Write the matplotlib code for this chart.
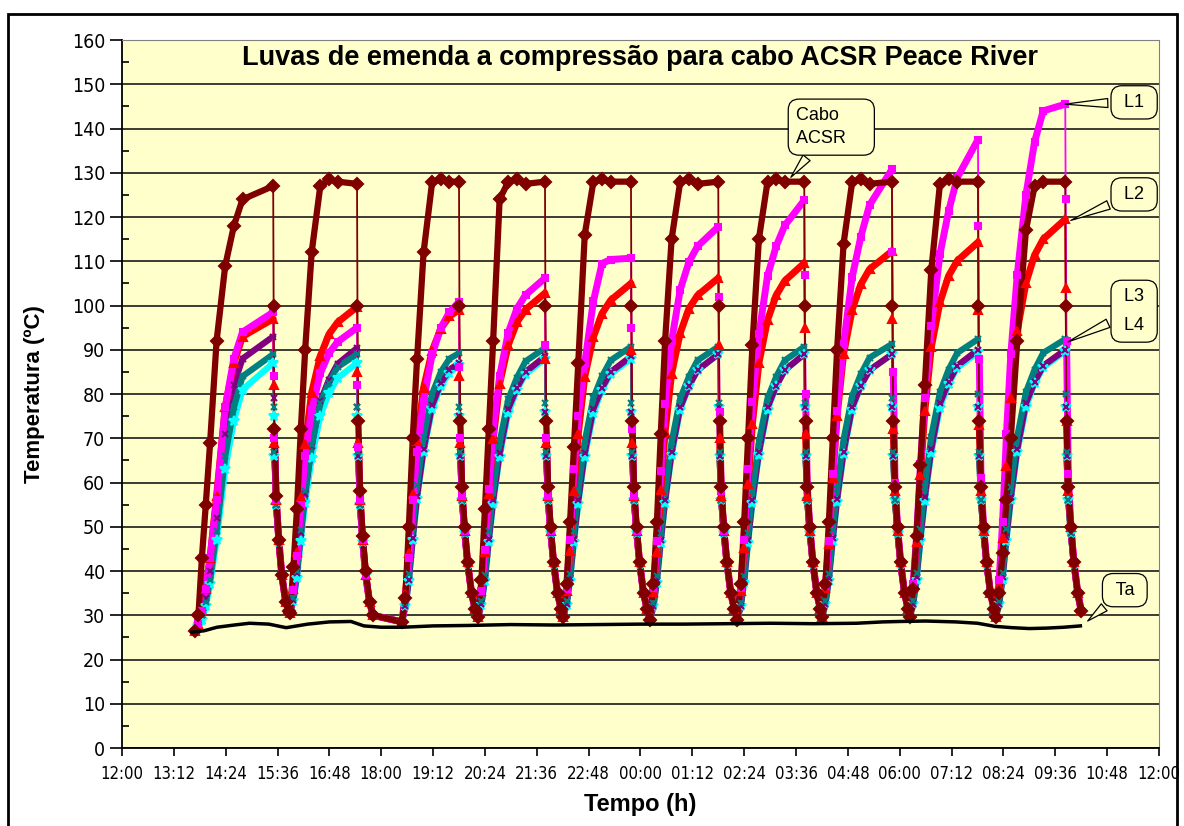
import numpy as np
import matplotlib.pyplot as plt

# cycle timing in hours after 12:00 (start of heating, switch-off)
cycle_start = [1.69, 3.89, 6.48, 8.24, 10.21, 12.22, 14.24, 16.20, 18.23, 20.22]
cycle_end = [3.50, 5.44, 7.80, 9.79, 11.78, 13.80, 15.79, 17.82, 19.81, 21.83]
heat_offsets = [0, 0.08, 0.16, 0.25, 0.35, 0.5, 0.7, 0.9, 1.1]
cool_offsets = [0.01, 0.03, 0.07, 0.13, 0.2, 0.29, 0.37]

# one row per cycle: heating samples, value at switch-off, cooling samples
cabo = [
    [26.5, 30, 43, 55, 69, 92, 109, 118, 124, 127, 100, 72, 57, 47, 39, 33, 31],
    [30.5, 41, 54, 72, 90, 112, 127, 128.5, 128, 127.5, 100, 74, 58, 48, 40, 33, 30],
    [28.5, 34, 50, 70, 88, 112, 128, 128.5, 128, 128, 100, 74, 59, 50, 42, 35, 31.5],
    [29.5, 38, 54, 72, 92, 124, 128, 128.5, 127.5, 128, 100, 74, 59, 50, 42, 35, 31.5],
    [29.5, 37, 51, 68, 87, 116, 128, 128.5, 128, 128, 100, 74, 59, 50, 42, 35, 31.5],
    [29, 37, 51, 71, 92, 115, 128, 128.5, 127.5, 128, 100, 74, 59, 50, 42, 35, 31.5],
    [29, 37, 51, 70, 91, 115, 128, 128.5, 128, 128, 100, 74, 59, 50, 42, 35, 31.5],
    [29.5, 37, 51, 70, 90, 114, 128, 128.5, 127.5, 128, 100, 74, 59, 50, 42, 35, 31.5],
    [29.5, 36, 48, 64, 82, 108, 127.5, 128.5, 128, 128, 100, 74, 59, 50, 42, 35, 31.5],
    [29.5, 35, 44, 56, 70, 92, 117, 127, 128, 128, 100, 74, 59, 50, 42, 35, 31],
]
l1 = [
    [26.5, 28, 31, 36, 43, 56, 77, 88, 94, 98.5, 84, 70, 56, 47, 39, 33, 31],
    [30.5, 35.7, 43.4, 55, 66, 76.3, 84.7, 89.2, 91.8, 95, 82, 68, 56, 47, 39, 33, 30],
    [28.5, 34, 43, 56, 67, 78.5, 89, 95, 98.5, 100.8, 86, 70, 57, 49, 42, 35, 31.5],
    [29.5, 35.6, 44.8, 58.6, 71.7, 84, 93.9, 99.3, 102.4, 106.2, 91, 70, 57, 49, 42, 35, 31.5],
    [29.5, 36, 47, 63, 75, 87, 101, 109.5, 110.4, 110.7, 95, 72, 57, 49, 42, 35, 31.5],
    [29, 36.1, 46.8, 62.7, 77.8, 92, 103.6, 109.8, 113.4, 117.8, 102, 76, 58, 49, 42, 35, 31.5],
    [29, 36.1, 47, 63.1, 78.3, 93.5, 106.7, 113.4, 118.1, 123.8, 107, 80, 59, 50, 42, 35, 31.5],
    [29.5, 36.6, 46.7, 61.9, 76.1, 91.3, 106.5, 115.6, 122.7, 130.8, 112, 85, 60, 50, 42, 35, 31.5],
    [29.5, 37.1, 47.9, 64.1, 79.2, 95.4, 111.6, 121.3, 128.9, 137.5, 118, 88, 61, 50, 42, 35, 31.5],
    [29.5, 38, 51, 71, 89, 107, 125, 137, 144, 145.5, 124, 92, 62, 50, 42, 35, 31],
]
l2 = [
    [26.5, 28, 31, 36, 43, 57, 77, 87, 93, 97, 82, 69, 56, 47, 39, 33, 31],
    [30.5, 36, 44.3, 56.8, 68.6, 80.3, 88.6, 93.5, 96.2, 99.7, 85, 69, 56, 47, 39, 33, 30],
    [28.5, 34.8, 44, 57.4, 69.4, 81.4, 89.8, 94.8, 97.6, 99, 84, 69, 57, 49, 42, 35, 31.5],
    [29.5, 35.4, 44.2, 57.4, 69.8, 82.3, 91.1, 96.2, 99.1, 102.8, 88, 69, 57, 49, 42, 35, 31.5],
    [29.5, 35.5, 44.6, 58.2, 71, 83.9, 92.9, 98.2, 101.2, 105, 90, 69, 57, 49, 42, 35, 31.5],
    [29, 35.2, 44.4, 58.3, 71.5, 84.6, 93.8, 99.3, 102.3, 106.2, 91, 70, 57, 49, 42, 35, 31.5],
    [29, 35.4, 45.1, 59.6, 73.3, 87, 96.7, 102.3, 105.6, 109.6, 95, 71, 57, 49, 42, 35, 31.5],
    [29.5, 36.1, 46.1, 61, 75, 89.1, 99.1, 104.8, 108.2, 112.3, 97, 72, 58, 49, 42, 35, 31.5],
    [29.5, 36.3, 46.5, 61.7, 76.1, 90.6, 100.7, 106.7, 110.1, 114.3, 99, 73, 58, 49, 42, 35, 31.5],
    [29.5, 36.7, 47.5, 63.7, 79, 94.3, 105.1, 111.4, 115, 119.5, 104, 74, 58, 50, 42, 35, 31],
]
l3 = [
    [26.5, 27.5, 30, 33, 38, 49, 66, 77, 84, 89, 77, 67, 55, 46.5, 39, 33, 31],
    [30.5, 34, 39.9, 49.2, 58, 68.5, 77.9, 82.6, 86.1, 89, 77, 67, 55, 46.5, 39, 33, 30],
    [28.5, 32.7, 39.4, 49.7, 59.5, 70.4, 80.1, 85, 88, 89.2, 77, 67, 56, 48.5, 41.5, 35, 31.5],
    [29.5, 33.2, 39.2, 49, 58.1, 69.1, 78.8, 83.7, 87.4, 90.4, 78, 67, 56, 48.5, 41.5, 35, 31.5],
    [29.5, 33.2, 39.3, 49.1, 58.3, 69.3, 79.1, 84, 87.6, 90.7, 78, 67, 56, 48.5, 41.5, 35, 31.5],
    [29, 32.7, 38.9, 48.7, 58, 69.1, 79, 83.9, 87.6, 90.7, 78, 67, 56, 48.5, 41.5, 35, 31.5],
    [29, 32.7, 38.9, 48.7, 58, 69.1, 79, 83.9, 87.6, 90.7, 78, 67, 56, 48.5, 41.5, 35, 31.5],
    [29.5, 33.2, 39.4, 49.3, 58.5, 69.7, 79.6, 84.5, 88.2, 91.3, 79, 67, 56, 48.5, 41.5, 35, 31.5],
    [29.5, 33.3, 39.6, 49.6, 59.1, 70.4, 80.4, 85.5, 89.3, 92.4, 80, 67, 56, 48.5, 41.5, 35, 31.5],
    [29.5, 33.3, 39.6, 49.6, 59.1, 70.4, 80.4, 85.5, 89.3, 92.4, 80, 67, 56, 48.5, 41.5, 35, 31],
]
l4 = [
    [26.5, 27.5, 29, 32, 37, 47, 63, 74, 81, 87, 75, 66, 55, 46.5, 39, 33, 31],
    [30.5, 33.3, 38.4, 46.9, 55.4, 65.5, 75.1, 80.2, 83.6, 87, 75, 66, 55, 46.5, 39, 33, 30],
    [28.5, 32, 37.8, 47.1, 56.3, 66.8, 76.6, 81.9, 84.8, 86.5, 75, 66, 56, 48.5, 41.5, 35, 31.5],
    [29.5, 32.4, 37.7, 46.5, 55.2, 65.8, 75.7, 81, 84.5, 88, 76, 66, 56, 48.5, 41.5, 35, 31.5],
    [29.5, 32.4, 37.7, 46.5, 55.2, 65.8, 75.7, 81, 84.5, 88, 76, 66, 56, 48.5, 41.5, 35, 31.5],
    [29, 32, 37.4, 46.4, 55.4, 66.2, 76.4, 81.8, 85.4, 89, 77, 66, 56, 48.5, 41.5, 35, 31.5],
    [29, 32, 37.4, 46.4, 55.4, 66.2, 76.4, 81.8, 85.4, 89, 77, 66, 56, 48.5, 41.5, 35, 31.5],
    [29.5, 32.5, 37.8, 46.8, 55.7, 66.4, 76.5, 81.9, 85.4, 89, 77, 66, 56, 48.5, 41.5, 35, 31.5],
    [29.5, 32.5, 37.9, 46.9, 55.9, 66.7, 76.9, 82.3, 85.9, 89.5, 77, 66, 56, 48.5, 41.5, 35, 31.5],
    [29.5, 32.5, 37.9, 46.9, 56, 66.8, 77, 82.4, 86, 89.7, 77, 66, 56, 48.5, 41.5, 35, 31],
]
l5 = [
    [26.5, 27.5, 30, 34, 40, 52, 71, 82, 88, 93, 79, 67, 55, 46.5, 39, 33, 31],
    [30.5, 33.5, 39.5, 48.5, 57.5, 68.2, 78.4, 83.2, 86.8, 90.4, 77, 66, 55, 46.5, 39, 33, 30],
    [28.5, 32, 38, 47.5, 57, 67.5, 77.5, 82.5, 85.5, 87, 75, 66, 56, 48.5, 41.5, 35, 31.5],
    [29.5, 32.5, 38.4, 47.2, 56, 66.7, 76.7, 81.4, 85, 88.5, 76, 66, 56, 48.5, 41.5, 35, 31.5],
    [29.5, 32.5, 38.4, 47.2, 56, 66.7, 76.7, 81.4, 85, 88.5, 76, 66, 56, 48.5, 41.5, 35, 31.5],
    [29, 32, 38, 47, 56, 66.8, 77, 81.8, 85.4, 89, 77, 66, 56, 48.5, 41.5, 35, 31.5],
    [29, 32, 38, 47, 56, 66.8, 77, 81.8, 85.4, 89, 77, 66, 56, 48.5, 41.5, 35, 31.5],
    [29.5, 32.5, 38.4, 47.4, 56.3, 67, 77.1, 81.9, 85.4, 89, 77, 66, 56, 48.5, 41.5, 35, 31.5],
    [29.5, 32.5, 38.6, 47.7, 56.7, 67.6, 77.9, 82.7, 86.4, 90, 77, 66, 56, 48.5, 41.5, 35, 31.5],
    [29.5, 32.5, 38.6, 47.7, 56.7, 67.6, 77.9, 82.7, 86.4, 90, 77, 66, 56, 48.5, 41.5, 35, 31],
]

# ambient temperature
ta_time = [1.62, 1.9, 2.2, 2.6, 2.95, 3.4, 3.8, 4.3, 4.8, 5.3, 5.6, 6.0, 6.5, 7.2, 8.0,
           9.0, 10.0, 11.0, 12.0, 13.0, 14.0, 15.0, 16.0, 17.0, 17.6, 18.0, 18.6, 19.3,
           19.8, 20.2, 20.6, 21.0, 21.4, 21.8, 22.18]
ta_vals = [26.2, 26.5, 27.3, 27.8, 28.2, 28, 27.2, 28, 28.5, 28.6, 27.6, 27.3, 27.3, 27.6,
           27.7, 27.9, 27.8, 27.9, 28, 28, 28.1, 28.2, 28.1, 28.2, 28.5, 28.6, 28.7, 28.5,
           28.2, 27.5, 27.2, 27, 27.1, 27.3, 27.6]

xtick_labels = ["12:00", "13:12", "14:24", "15:36", "16:48", "18:00", "19:12", "20:24",
                "21:36", "22:48", "00:00", "01:12", "02:24", "03:36", "04:48", "06:00",
                "07:12", "08:24", "09:36", "10:48", "12:00"]

plt.rcParams['font.family'] = ['Liberation Sans', 'DejaVu Sans']

# sample times, one row per cycle
time = np.array([[t0 + o for o in heat_offsets] + [te] + [te + o for o in cool_offsets]
                 for t0, te in zip(cycle_start, cycle_end)])

fig = plt.figure(figsize=(11.84, 8.26), dpi=100)
ax = fig.add_axes([0.1030, 0.0944, 0.8759, 0.8571])
ax.set_facecolor('#FFFFCC')

# chart frame
fig.patches.append(plt.Rectangle((8 / 1184, -0.01), 1169 / 1184, 0.993, transform=fig.transFigure,
                                 fill=False, ec='black', lw=2))

styles = [
    (l4, '#00FFFF', '*', 7, 4.5),
    (l5, '#800080', 'x', 5, 4.5),
    (l3, '#008080', 'x', 5, 4.5),
    (l2, '#FF0000', '^', 6, 5),
    (l1, '#FF00FF', 's', 5, 5),
    (cabo, '#800000', 'D', 6, 4.5),
]
for data, col, mk, ms, lw in styles:
    vals = np.array(data)
    n = len(vals)
    for k in range(n):
        # heating part and cooling tail drawn as a thick band, switch-off drop thin
        ax.plot(time[k, :10], vals[k, :10], color=col, lw=lw, solid_capstyle='round', zorder=3)
        ax.plot(time[k, 9:12], vals[k, 9:12], color=col, lw=1.3, zorder=3)
        tc, vc = list(time[k, 11:]), list(vals[k, 11:])
        if k + 1 < n:
            tc.append(time[k + 1, 0])
            vc.append(vals[k + 1, 0])
        ax.plot(tc, vc, color=col, lw=lw, solid_capstyle='round', zorder=3)
    ax.plot(time.ravel(), vals.ravel(), ls='none', marker=mk, ms=ms, color=col, mec=col,
            mew=1.5, zorder=4)

ax.plot(ta_time, ta_vals, color='black', lw=2.5, zorder=5)

ax.set_xlim(0, 24)
ax.set_ylim(0, 160)
ax.set_xticks(np.arange(21) * 1.2)
ax.set_xticklabels(xtick_labels, fontfamily='DejaVu Sans', fontstretch='condensed', fontsize=12)
ax.set_yticks(np.arange(0, 161, 10))
ax.set_yticklabels([str(v) for v in range(0, 161, 10)], fontfamily='DejaVu Sans',
                   fontstretch='condensed', fontsize=14)
ax.set_yticks(np.arange(5, 160, 10), minor=True)
ax.tick_params(axis='y', which='major', direction='out', length=9, width=1.2, pad=3)
ax.tick_params(axis='y', which='minor', direction='in', length=5, width=1.2)
ax.tick_params(axis='x', which='major', direction='out', length=6, width=1.2, pad=6)
ax.yaxis.grid(True, color='#1a1a1a', lw=1.2, zorder=1)
ax.set_axisbelow(True)
for s in ['left', 'bottom']:
    ax.spines[s].set_linewidth(1.3)
for s in ['top', 'right']:
    ax.spines[s].set_color('#808080')

ax.set_xlabel('Tempo (h)', fontsize=17, fontweight='bold')
ax.xaxis.set_label_coords(0.5, -0.064)
ax.set_ylabel('Temperatura (ºC)', fontsize=16, fontweight='bold')
ax.yaxis.set_label_coords(-0.074, 0.5)
ax.text(0.5, 0.975, 'Luvas de emenda a compressão para cabo ACSR Peace River',
        transform=ax.transAxes, ha='center', va='center', fontsize=19.5, fontweight='bold')

box = dict(boxstyle='round,pad=0.45,rounding_size=0.6', fc='#FFFFCC', ec='black', lw=0.9)
arrow = dict(arrowstyle='wedge,tail_width=0.5,shrink_factor=0.5', fc='#FFFFCC', ec='black', lw=0.9)
callouts = [
    ('Cabo    \nACSR    ', (15.44, 128.5), (0.684, 0.877), 1.45),
    (' L1 ', (21.76, 145.5), (0.976, 0.912), 1.45),
    (' L2 ', (21.9, 119), (0.976, 0.782), 1.45),
    (' L3 \n L4 ', (21.83, 91.5), (0.976, 0.617), 1.9),
    (' Ta ', (22.3, 28.3), (0.967, 0.223), 1.45),
]
for txt, tip, pos, spacing in callouts:
    ax.annotate(txt, xy=tip, xytext=pos, textcoords='axes fraction', ha='center', va='center',
                multialignment='left', fontsize=13, linespacing=spacing, bbox=box,
                arrowprops=arrow, zorder=6, annotation_clip=False)

fig.savefig('out.png', dpi=100)
